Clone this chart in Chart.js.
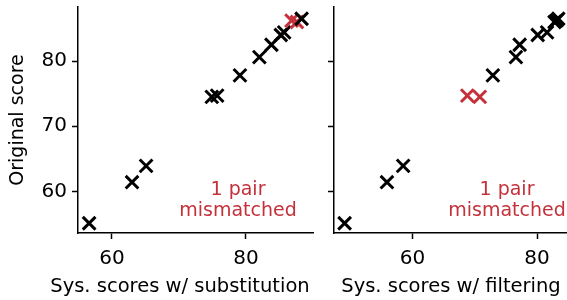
<!DOCTYPE html>
<html lang="en">
<head>
  <meta charset="UTF-8" />
  <title>Original vs system scores</title>
  <script src="https://cdn.jsdelivr.net/npm/chart.js"></script>
  <style>
    body { margin: 0; background: #fff; }
    #painel { position: relative; width: 567px; height: 300px; }
    canvas { position: absolute; top: 0; }
  </style>
</head>
<body>
<div id="painel">
  <canvas id="esq" width="320" height="300" style="left:0"></canvas>
  <canvas id="dir" width="247" height="300" style="left:320px"></canvas>
</div>
<script>
// scores originais (eixo y, comum aos dois painéis)
const original = [55.1, 61.4, 63.9, 74.5, 74.7, 77.8, 80.6, 82.5, 84.0, 84.4, 86.0, 86.2, 86.5];
// painel esquerdo: substituição
const substituicao = [56.6, 63.0, 65.1, 74.9, 75.7, 79.1, 82.0, 83.8, 85.2, 85.7, 87.6, 86.8, 88.3];
const erroSubst = [false, false, false, false, false, false, false, false, false, false, true, true, false];
// painel direito: filtragem
const filtragem = [49.1, 55.9, 58.5, 70.8, 68.8, 72.9, 76.6, 77.2, 80.1, 81.6, 82.8, 83.1, 83.4];
const erroFiltr = [false, false, false, true, true, false, false, false, false, false, false, false, false];

const yTicks = [60, 70, 80];
const xTicks = [60, 80];
const textoNota = ['1 pair', 'mismatched'];

const PRETO = '#000000';
const VERMELHO = '#c4313b';
const FONTE = 'DejaVu Sans';

// nota vermelha + título do eixo x (desenhado à mão para não ser comprimido)
function textos(cx, tituloX, tx) {
  return {
    id: 'textos',
    afterDraw(chart) {
      const ctx = chart.ctx;
      ctx.save();
      ctx.textAlign = 'center';
      ctx.textBaseline = 'middle';
      ctx.fillStyle = VERMELHO;
      ctx.font = '19px "' + FONTE + '"';
      ctx.fillText(textoNota[0], cx, 190);
      ctx.fillText(textoNota[1], cx, 211);
      ctx.fillStyle = PRETO;
      ctx.font = '19.5px "' + FONTE + '"';
      ctx.fillText(tituloX, tx, 287);
      ctx.restore();
    }
  };
}

function grafico(id, xs, erros, xMin, xMax, tituloX, tx, comRotuloY, larguraY, padding, cx) {
  const pontos = xs.map((x, i) => ({ x: x, y: original[i] }));
  const cores = erros.map(e => e ? VERMELHO : PRETO);
  return new Chart(document.getElementById(id), {
    type: 'scatter',
    data: {
      datasets: [{
        data: pontos,
        pointStyle: 'crossRot',
        pointRadius: 9,
        pointHoverRadius: 9,
        pointBorderWidth: 3,
        pointBorderColor: cores,
        pointBackgroundColor: cores
      }]
    },
    options: {
      responsive: false,
      animation: false,
      layout: { padding: padding, autoPadding: false },
      plugins: { legend: { display: false }, tooltip: { enabled: false } },
      scales: {
        x: {
          type: 'linear',
          min: xMin, max: xMax,
          afterBuildTicks: s => { s.ticks = xTicks.map(v => ({ value: v })); },
          afterFit: s => { s.height = 67; s.paddingLeft = 0; s.paddingRight = 0; },
          border: { color: PRETO, width: 1.5 },
          grid: { drawOnChartArea: false, drawTicks: true, tickLength: 6, tickColor: PRETO, tickWidth: 1.5 },
          ticks: { color: PRETO, font: { family: FONTE, size: 20 }, padding: 8, maxRotation: 0 },
          title: { display: false }
        },
        y: {
          type: 'linear',
          min: 53.6, max: 88.3,
          afterBuildTicks: s => { s.ticks = yTicks.map(v => ({ value: v })); },
          afterFit: s => { s.width = larguraY; s.paddingTop = 0; s.paddingBottom = 0; },
          border: { color: PRETO, width: 1.5 },
          grid: { drawOnChartArea: false, drawTicks: true, tickLength: 6, tickColor: PRETO, tickWidth: 1.5 },
          ticks: {
            color: PRETO, font: { family: FONTE, size: 20 }, padding: 5,
            callback: v => comRotuloY ? v : ''
          },
          title: { display: comRotuloY, text: 'Original score', color: PRETO, font: { family: FONTE, size: 19 }, padding: { top: 7, bottom: 0 } }
        }
      }
    },
    plugins: [textos(cx, tituloX, tx)]
  });
}

grafico('esq', substituicao, erroSubst, 54.94, 90.0, 'Sys. scores w/ substitution', 180, true, 78, { top: 7, right: 7, left: 0, bottom: 0 }, 238);
grafico('dir', filtragem, erroFiltr, 47.4, 84.8, 'Sys. scores w/ filtering', 131, false, 14, { top: 7, right: 0, left: 0, bottom: 0 }, 187);
</script>
</body>
</html>
